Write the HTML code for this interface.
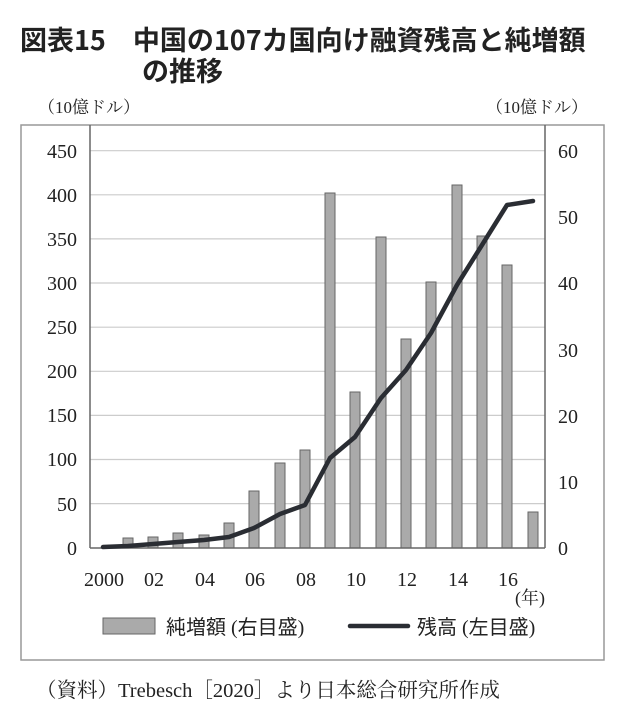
<!DOCTYPE html>
<html><head><meta charset="utf-8"><style>
body{margin:0;background:#fff;width:624px;height:708px;overflow:hidden}
</style></head><body>
<svg width="624" height="708" xmlns="http://www.w3.org/2000/svg">
<g font-family="'Noto Sans CJK JP',sans-serif" font-weight="bold" font-size="27" fill="#222">
<text x="20" y="50">図表15　中国の107カ国向け融資残高と純増額</text>
<text x="142" y="81">の推移</text>
</g>
<g font-family="'Liberation Serif','Noto Serif CJK SC',serif" font-size="17" fill="#222">
<text x="38" y="113">（10億ドル）</text>
<text x="486" y="113">（10億ドル）</text>
</g>
<rect x="21" y="125" width="583" height="535" fill="none" stroke="#999" stroke-width="1.5"/>
<g stroke="#ccc" stroke-width="1.2">
<line x1="90" x2="545" y1="150.7" y2="150.7"/><line x1="90" x2="545" y1="194.8" y2="194.8"/>
<line x1="90" x2="545" y1="238.9" y2="238.9"/><line x1="90" x2="545" y1="283" y2="283"/>
<line x1="90" x2="545" y1="327.2" y2="327.2"/><line x1="90" x2="545" y1="371.3" y2="371.3"/>
<line x1="90" x2="545" y1="415.4" y2="415.4"/><line x1="90" x2="545" y1="459.5" y2="459.5"/>
<line x1="90" x2="545" y1="503.6" y2="503.6"/>
</g>
<g fill="#aaa" stroke="#666" stroke-width="1">
<rect x="123" y="538" width="10" height="10"/>
<rect x="148" y="537" width="10" height="11"/>
<rect x="173" y="533" width="10" height="15"/>
<rect x="199" y="535" width="10" height="13"/>
<rect x="224" y="523" width="10" height="25"/>
<rect x="249" y="491" width="10" height="57"/>
<rect x="275" y="463" width="10" height="85"/>
<rect x="300" y="450" width="10" height="98"/>
<rect x="325" y="193" width="10" height="355"/>
<rect x="350" y="392" width="10" height="156"/>
<rect x="376" y="237" width="10" height="311"/>
<rect x="401" y="339" width="10" height="209"/>
<rect x="426" y="282" width="10" height="266"/>
<rect x="452" y="185" width="10" height="363"/>
<rect x="477" y="236" width="10" height="312"/>
<rect x="502" y="265" width="10" height="283"/>
<rect x="528" y="512" width="10" height="36"/>
</g>
<line x1="90" y1="125" x2="90" y2="548" stroke="#666" stroke-width="1.5"/>
<line x1="545" y1="125" x2="545" y2="548" stroke="#666" stroke-width="1.5"/>
<line x1="90" y1="548" x2="545" y2="548" stroke="#666" stroke-width="1.5"/>
<polyline fill="none" stroke="#2a2d33" stroke-width="4.5" stroke-linejoin="round" stroke-linecap="round"
points="103,547 128,546 153,544 178,542 204,540 229,537 254,528 280,514 305,505 330,458 355,437 381,398 406,370 431,333 457,285 482,245 507,205 533,201"/>
<g font-family="'Liberation Serif',serif" font-size="20" fill="#222" text-anchor="end">
<text x="77" y="158">450</text><text x="77" y="202">400</text><text x="77" y="246">350</text>
<text x="77" y="290">300</text><text x="77" y="334">250</text><text x="77" y="378">200</text>
<text x="77" y="422">150</text><text x="77" y="466">100</text><text x="77" y="511">50</text>
<text x="77" y="555">0</text>
</g>
<g font-family="'Liberation Serif',serif" font-size="20" fill="#222">
<text x="558" y="158">60</text><text x="558" y="224">50</text><text x="558" y="290">40</text>
<text x="558" y="357">30</text><text x="558" y="423">20</text><text x="558" y="489">10</text>
<text x="558" y="555">0</text>
</g>
<g font-family="'Liberation Serif',serif" font-size="20" fill="#222" text-anchor="middle">
<text x="104" y="586">2000</text><text x="154" y="586">02</text><text x="205" y="586">04</text>
<text x="255" y="586">06</text><text x="306" y="586">08</text><text x="356" y="586">10</text>
<text x="407" y="586">12</text><text x="458" y="586">14</text><text x="508" y="586">16</text>
</g>
<text x="515" y="604" font-family="'Liberation Serif','Noto Serif CJK SC',serif" font-size="18" fill="#222">(年)</text>
<rect x="103" y="618" width="52" height="16" fill="#aaa" stroke="#666"/>
<text x="166" y="634" font-family="'Liberation Serif','Noto Sans CJK JP',sans-serif" font-size="20" fill="#222">純増額 (右目盛)</text>
<line x1="350" y1="626" x2="408" y2="626" stroke="#2a2d33" stroke-width="4.5" stroke-linecap="round"/>
<text x="417" y="634" font-family="'Liberation Serif','Noto Sans CJK JP',sans-serif" font-size="20" fill="#222">残高 (左目盛)</text>
<text x="36" y="697" font-family="'Liberation Serif','Noto Serif CJK SC',serif" font-size="20.5" fill="#222">（資料）Trebesch［2020］より日本総合研究所作成</text>
</svg>
</body></html>
